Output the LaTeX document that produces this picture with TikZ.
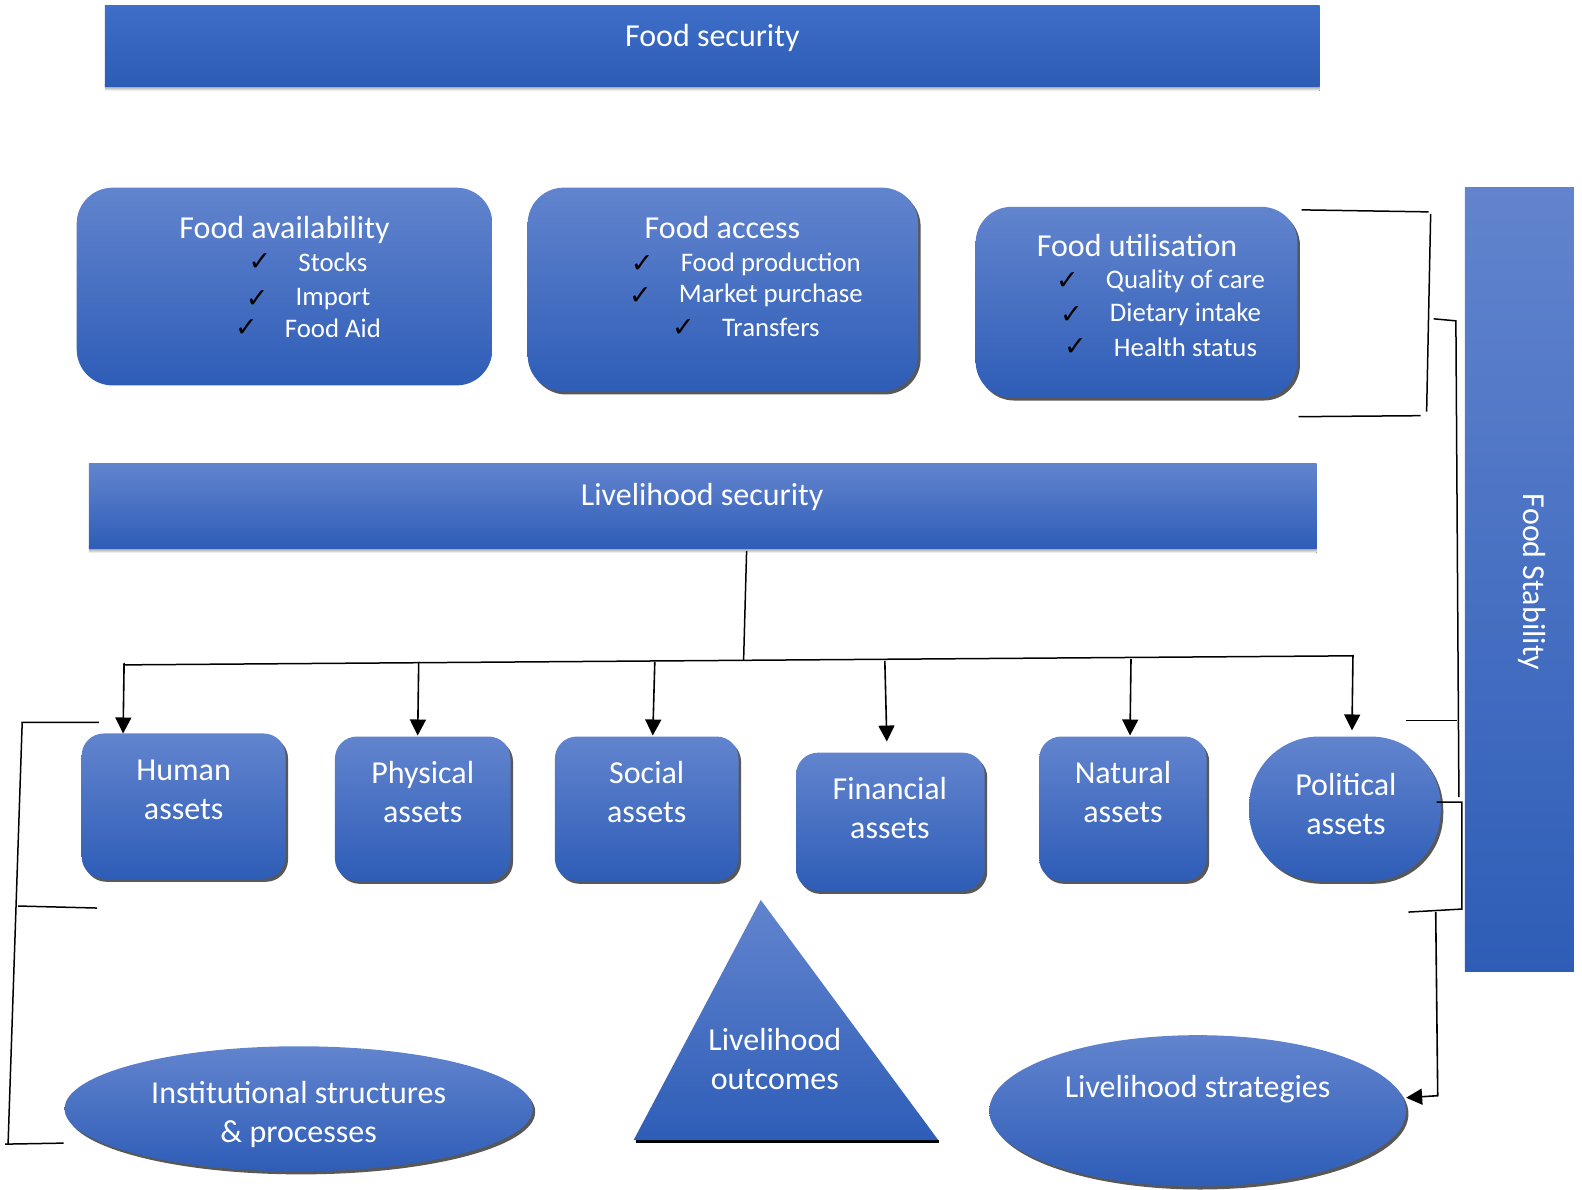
\documentclass[tikz,border=0pt]{standalone}
\usepackage{fontspec}
\setmainfont{Carlito}
\newfontfamily\symfont{DejaVu Sans}
\usetikzlibrary{shadows,fit,arrows.meta,shapes.geometric}

\definecolor{gTop}{RGB}{98,132,206}
\definecolor{gMid}{RGB}{66,112,198}
\definecolor{gBot}{RGB}{46,93,183}
\definecolor{barTop}{RGB}{62,110,200}
\definecolor{barBot}{RGB}{44,92,180}
\definecolor{shade}{RGB}{88,88,88}

\newdimen\px \px=1.009pt

\tikzset{
  grad/.style={top color=gTop, middle color=gMid, bottom color=gBot, draw=none},
  barfill/.style={top color=barTop, bottom color=barBot, draw=none},
  shadowed/.style={drop shadow={shadow xshift=2.5pt, shadow yshift=-3pt, fill=shade, opacity=1}},
  shapebox/.style={rectangle, inner sep=0pt, grad},
  bigtxt/.style={text=white, inner sep=0pt, font=\fontsize{32}{39}\selectfont, align=center},
  itemtxt/.style={text=white, inner sep=0pt, font=\fontsize{26.8}{30}\selectfont},
  chk/.style={text=black, inner sep=0pt, font=\symfont\fontsize{27}{30}\selectfont},
  wire/.style={draw=black, line width=1.5pt},
  arr/.style={draw=black, line width=1.6pt, -{Triangle[width=16pt,length=16pt]}}
}

\begin{document}
\begin{tikzpicture}[x=1.009pt, y=-1.009pt]
\useasboundingbox (0,0) rectangle (1568,1179);

% ---------- top bar ----------
\fill[shade] (104,84) rectangle (1308,90);
\node[shapebox, barfill, fit={(104,5) (1308,86)}] (fsec) {};
\node[bigtxt] (fsecT) at (706,38) {Food security};

% ---------- food pillars ----------
\node[shapebox, rounded corners=36pt, fit={(76,186) (488,382)}] (avail) {};
\node[bigtxt] (availT) at (282,228) {Food availability};
\node[itemtxt] (a1) at (330,260) {Stocks};
\node[itemtxt] (a2) at (330,296) {Import};
\node[itemtxt] (a3) at (330,325) {Food Aid};
\foreach \n in {a1,a2,a3} \node[chk] at ([xshift=-38\px]\n.west) {✓};

\node[shapebox, shadowed, rounded corners=36pt, fit={(523,186) (910,388)}] (access) {};
\node[bigtxt] (accessT) at (716,225) {Food access};
\node[itemtxt] (b1) at (764,262) {Food production};
\node[itemtxt] (b2) at (764,293) {Market purchase};
\node[itemtxt] (b3) at (764,325) {Transfers};
\foreach \n in {b1,b2,b3} \node[chk] at ([xshift=-38\px]\n.west) {✓};

\node[shapebox, shadowed, rounded corners=36pt, fit={(967,205) (1286,394)}] (util) {};
\node[bigtxt] (utilT) at (1127,243) {Food utilisation};
\node[itemtxt] (c1) at (1175,279) {Quality of care};
\node[itemtxt] (c2) at (1175,312) {Dietary intake};
\node[itemtxt] (c3) at (1175,344) {Health status};
\foreach \n in {c1,c2,c3} \node[chk] at ([xshift=-38\px]\n.west) {✓};

% ---------- food stability ----------
\node[shapebox, fit={(1452,186) (1560,963)}] (stab) {};
\node[bigtxt, rotate=-90] (stabT) at (1518,577) {Food Stability};

% ---------- livelihood security ----------
\fill[shade] (88,542) rectangle (1305,548);
\node[shapebox, fit={(88,459) (1305,544)}] (lsec) {};
\node[bigtxt] (lsecT) at (696,493) {Livelihood security};

% ---------- assets ----------
\node[shapebox, shadowed, rounded corners=22pt, fit={(81,727) (283,871)}] (human) {};
\node[bigtxt] (humanT) at (182,783) {Human\\assets};
\node[shapebox, shadowed, rounded corners=22pt, fit={(332,730) (506,873)}] (phys) {};
\node[bigtxt] (physT) at (419,785) {Physical\\assets};
\node[shapebox, shadowed, rounded corners=22pt, fit={(550,730) (732,873)}] (social) {};
\node[bigtxt] (socialT) at (641,785) {Social\\assets};
\node[shapebox, shadowed, rounded corners=22pt, fit={(789,746) (976,883)}] (fin) {};
\node[bigtxt] (finT) at (882,801) {Financial\\assets};
\node[shapebox, shadowed, rounded corners=22pt, fit={(1030,730) (1196,873)}] (nat) {};
\node[bigtxt] (natT) at (1113,785) {Natural\\assets};
\node[shapebox, shadowed, rounded corners=70pt, fit={(1238,730) (1428,873)}] (pol) {};
\node[bigtxt] (polT) at (1334,797) {Political\\assets};

% ---------- bottom shapes ----------
\node[ellipse, inner sep=0pt, grad, shadowed, minimum width=464\px, minimum height=124\px] (inst) at (296,1099) {};
\node[bigtxt] (instT) at (296,1105) {Institutional structures\\\& processes};

\draw[shade, line width=3pt] (630,1131) -- (931,1131);
\path[grad] (754,892) -- (930,1130) -- (628,1130) -- cycle;
\coordinate (apex) at (754,892);
\node[bigtxt] (outT) at (768,1050) {Livelihood\\outcomes};

\node[ellipse, inner sep=0pt, grad, shadowed, minimum width=413\px, minimum height=150\px] (strat) at (1187,1101) {};
\node[bigtxt] (stratT) at (1187,1079) {Livelihood strategies};

% ---------- livelihood security to assets ----------
\coordinate (tTop) at (740,546);
\coordinate (tBot) at (737,655);
\coordinate (hL) at (122,659);
\coordinate (hR) at (1342,650);
\draw[wire] (tTop) -- (tBot);
\draw[wire] (hL) -- (hR);
\coordinate (d1) at (123,657);
\coordinate (d2) at (415,656);
\coordinate (d3) at (649,656);
\coordinate (d4) at (877,655);
\coordinate (d5) at (1121,653);
\coordinate (d6) at (1341,649);
\draw[arr] (d1) -- (122,727);
\draw[arr] (d2) -- (414,729);
\draw[arr] (d3) -- (647,729);
\draw[arr] (d4) -- (879,735);
\draw[arr] (d5) -- (1120,729);
\draw[arr] (d6) -- (1340,724);

% ---------- bracket round the food pillars ----------
\draw[wire] (1290,208) -- (1416,210);
\draw[wire] (1418,212) -- (1414,408);
\draw[wire] (1287,413) -- (1408,412);
\draw[wire] (1421,316) -- (1443,318) -- (1446,790);
\draw[wire] (1394,714) -- (1444,714);
\draw[wire] (1424,795) -- (1449,795) -- (1449,901) -- (1396,904);
\coordinate (sTop) at (1423,904);
\coordinate (sBend) at (1425,1086);
\draw[arr] (sTop) -- (sBend) -- (strat.east |- 0,1088);

% ---------- bracket on the left ----------
\draw[wire] (98,716) -- (22,716) -- (8,1134);
\draw[wire] (18,898) -- (96,900);
\draw[wire] (5,1134) -- (63,1133);
\end{tikzpicture}
\end{document}
